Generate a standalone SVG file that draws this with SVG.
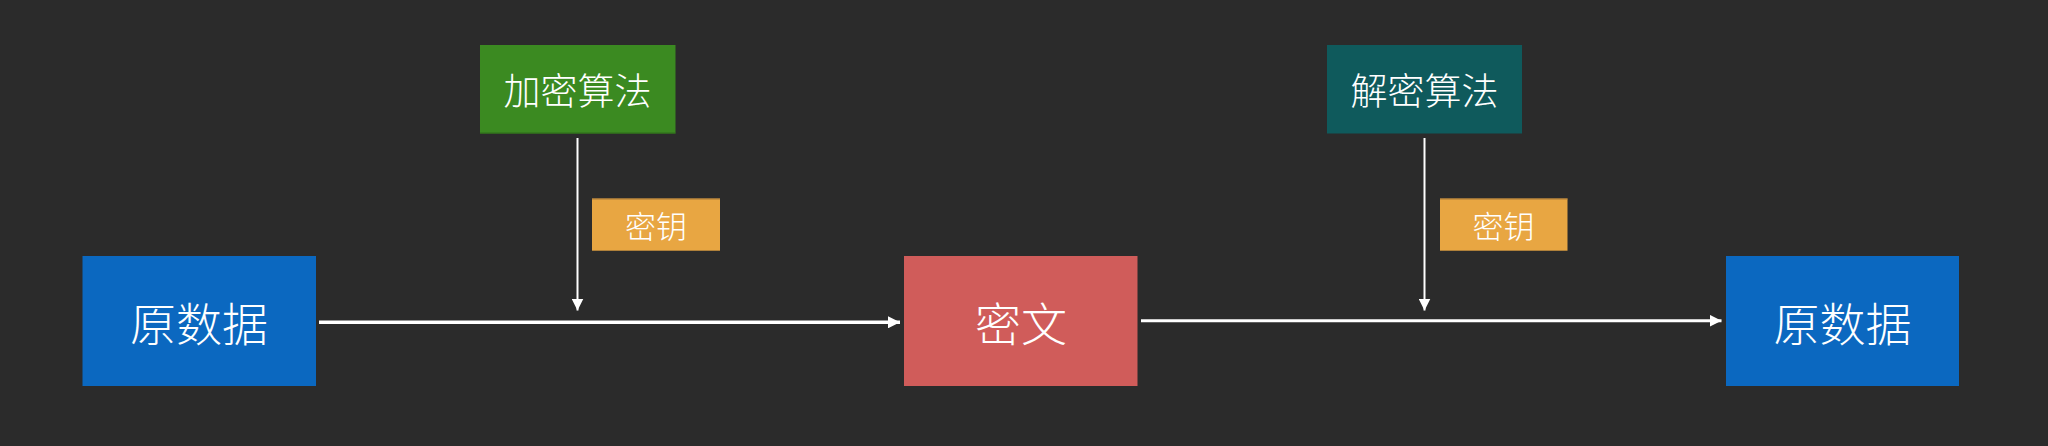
<svg xmlns="http://www.w3.org/2000/svg" width="2048" height="446" viewBox="0 0 2048 446">
<defs>
<style>
.t{font-family:"Noto Sans CJK SC","Noto Sans",sans-serif;fill:#ffffff;font-weight:300;text-anchor:middle;dominant-baseline:central}
.big{font-size:46px}
.mid{font-size:37px}
.sm{font-size:31px}
.ln{stroke:#ffffff;fill:none}
</style>
<marker id="ah" viewBox="0 0 12 12" refX="12" refY="6" markerWidth="12" markerHeight="12" markerUnits="userSpaceOnUse" orient="auto">
<path d="M0,0 L12,6 L0,12 Z" fill="#ffffff"/>
</marker>
</defs>
<rect width="2048" height="446" fill="#2b2b2b"/>
<g id="connectors">
<line class="ln" x1="319" y1="322.3" x2="900" y2="322.3" stroke-width="3.5" marker-end="url(#ah)"/>
<line class="ln" x1="1141" y1="320.7" x2="1721.5" y2="320.7" stroke-width="3" marker-end="url(#ah)"/>
<line class="ln" x1="577.5" y1="138" x2="577.5" y2="310.5" stroke-width="2" marker-end="url(#ah)"/>
<line class="ln" x1="1424.5" y1="138" x2="1424.5" y2="310.5" stroke-width="2" marker-end="url(#ah)"/>
</g>
<g id="src">
<rect x="82.5" y="256" width="233.5" height="130" fill="#0b68c0"/>
<text class="t big" x="199" y="321">原数据</text>
</g>
<g id="enc">
<rect x="480" y="45" width="195.5" height="88.5" fill="#3b8a21"/>
<line x1="480" y1="133" x2="675.5" y2="133" stroke="#2f6d1a" stroke-width="1"/>
<text class="t mid" x="577.5" y="89">加密算法</text>
</g>
<g id="key1">
<rect x="592" y="198.5" width="128" height="52.2" fill="#e8a642"/>
<line x1="592" y1="199" x2="720" y2="199" stroke="#a87a3a" stroke-width="1"/>
<text class="t sm" x="656" y="224.5">密钥</text>
</g>
<g id="cipher">
<rect x="904" y="256" width="233.5" height="130" fill="#d05c5a"/>
<text class="t big" x="1021" y="321">密文</text>
</g>
<g id="dec">
<rect x="1327" y="45" width="195" height="88.5" fill="#0f5a5c"/>
<text class="t mid" x="1424.5" y="89">解密算法</text>
</g>
<g id="key2">
<rect x="1440" y="198.5" width="127.5" height="52.2" fill="#e8a642"/>
<line x1="1440" y1="199" x2="1567.5" y2="199" stroke="#a87a3a" stroke-width="1"/>
<text class="t sm" x="1503.5" y="224.5">密钥</text>
</g>
<g id="dst">
<rect x="1726" y="256" width="233" height="130" fill="#0b68c0"/>
<text class="t big" x="1842.5" y="321">原数据</text>
</g>
</svg>
